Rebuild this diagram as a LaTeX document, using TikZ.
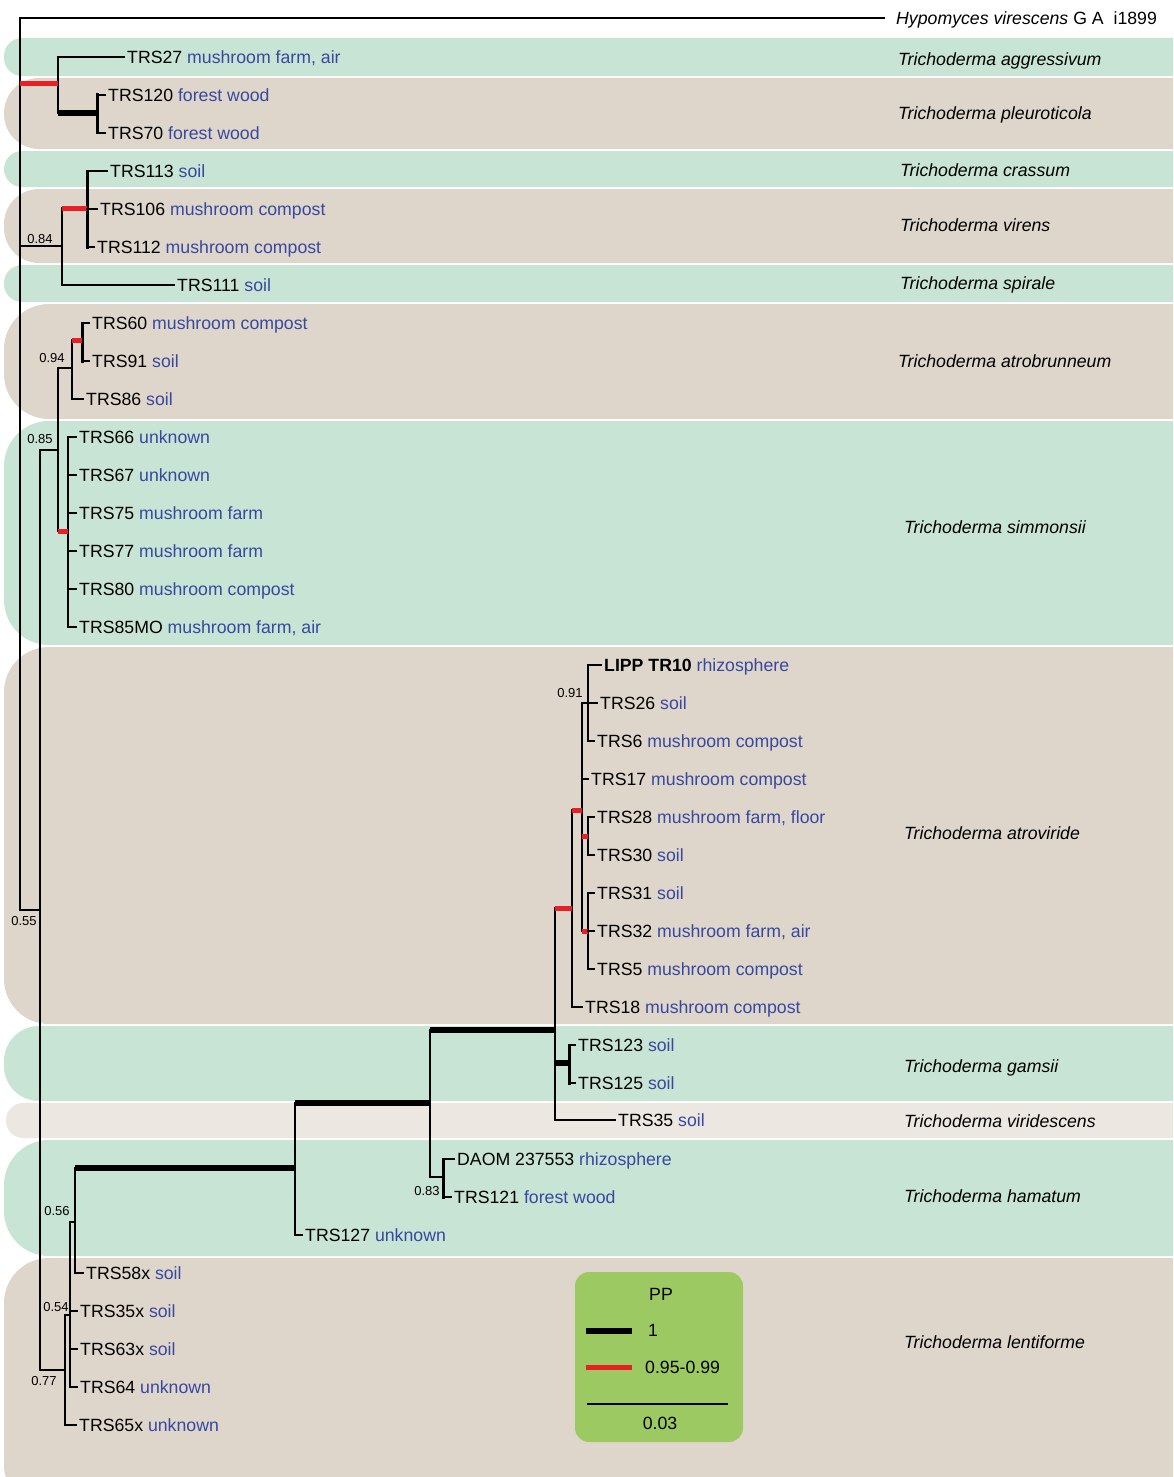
\documentclass[tikz,border=0pt]{standalone}
\usepackage{fontspec}
\setmainfont{Liberation Sans}
\usetikzlibrary{positioning}
\definecolor{bandgreen}{RGB}{200,228,212}
\definecolor{bandbeige}{RGB}{222,214,203}
\definecolor{bandlight}{RGB}{236,231,225}
\definecolor{srcblue}{RGB}{55,72,160}
\definecolor{ppred}{RGB}{232,32,38}
\definecolor{legendgreen}{RGB}{157,201,99}
\newcommand{\src}[1]{\textcolor{srcblue}{#1}}

\begin{document}
\begin{tikzpicture}[x=1pt,y=-1pt,
    leaf/.style={anchor=west,inner xsep=3pt,inner ysep=0pt,text height=12.7pt,text depth=0pt,font=\fontsize{17.7}{20}\selectfont},
    species/.style={anchor=west,inner sep=0pt,text height=12.7pt,text depth=0pt,font=\fontsize{17.7}{20}\selectfont\itshape},
    pp/.style={inner sep=0pt,font=\fontsize{13}{15}\selectfont},
    br/.style={line width=2.2pt,line cap=rect},
    brv/.style={line width=3pt,line cap=rect},
    pp1/.style={line width=5.5pt},
    pp95/.style={line width=5pt,ppred}]

    \useasboundingbox (0,0) rectangle (1173,1477);
    \clip (0,0) rectangle (1173,1477);

    % species bands
    \fill[bandgreen,rounded corners=18pt] (4,38) rectangle (1220,76);
    \fill[bandbeige,rounded corners=35pt] (4,78) rectangle (1220,149);
    \fill[bandgreen,rounded corners=18pt] (4,151) rectangle (1220,187);
    \fill[bandbeige,rounded corners=35pt] (4,189) rectangle (1220,263);
    \fill[bandgreen,rounded corners=18pt] (4,265) rectangle (1220,302);
    \fill[bandbeige,rounded corners=45pt] (4,304) rectangle (1220,419);
    \fill[bandgreen,rounded corners=45pt] (4,421) rectangle (1220,645);
    \fill[bandbeige,rounded corners=45pt] (4,647) rectangle (1220,1024);
    \fill[bandgreen,rounded corners=35pt] (4,1026) rectangle (1220,1101);
    \fill[bandlight,rounded corners=17pt] (6,1103) rectangle (1220,1138);
    \fill[bandgreen,rounded corners=45pt] (4,1140) rectangle (1220,1256);
    \fill[bandbeige,rounded corners=45pt] (4,1258) rectangle (1220,1510);

    % species names
    \node[species] at (898,59) (aggr) {Trichoderma aggressivum};
    \node[species] at (898,113) (pleu) {Trichoderma pleuroticola};
    \node[species] at (900,170) (cras) {Trichoderma crassum};
    \node[species] at (900,225) (vire) {Trichoderma virens};
    \node[species] at (900,283) (spir) {Trichoderma spirale};
    \node[species] at (898,361) (atrb) {Trichoderma atrobrunneum};
    \node[species] at (904,527) (simm) {Trichoderma simmonsii};
    \node[species] at (904,833) (atrv) {Trichoderma atroviride};
    \node[species] at (904,1066) (gams) {Trichoderma gamsii};
    \node[species] at (904,1121) (virs) {Trichoderma viridescens};
    \node[species] at (904,1196) (hama) {Trichoderma hamatum};
    \node[species] at (904,1342) (lent) {Trichoderma lentiforme};

    % strains
    \node[leaf,inner xsep=12pt] at (884,18) (hypo) {\textit{Hypomyces virescens} G~A~~i1899};
    \node[leaf] at (124,57) (t27) {TRS27 \src{mushroom farm, air}};
    \node[leaf] at (105,95) (t120) {TRS120 \src{forest wood}};
    \node[leaf] at (105,133) (t70) {TRS70 \src{forest wood}};
    \node[leaf] at (107,171) (t113) {TRS113 \src{soil}};
    \node[leaf] at (97,209) (t106) {TRS106 \src{mushroom compost}};
    \node[leaf] at (94,247) (t112) {TRS112 \src{mushroom compost}};
    \node[leaf] at (174,285) (t111) {TRS111 \src{soil}};
    \node[leaf] at (89,323) (t60) {TRS60 \src{mushroom compost}};
    \node[leaf] at (89,361) (t91) {TRS91 \src{soil}};
    \node[leaf] at (83,399) (t86) {TRS86 \src{soil}};
    \node[leaf] at (76,437) (t66) {TRS66 \src{unknown}};
    \node[leaf] at (76,475) (t67) {TRS67 \src{unknown}};
    \node[leaf] at (76,513) (t75) {TRS75 \src{mushroom farm}};
    \node[leaf] at (76,551) (t77) {TRS77 \src{mushroom farm}};
    \node[leaf] at (76,589) (t80) {TRS80 \src{mushroom compost}};
    \node[leaf] at (76,627) (t85) {TRS85MO \src{mushroom farm, air}};
    \node[leaf] at (601,665) (tLIPP) {\textbf{LIPP TR10} \src{rhizosphere}};
    \node[leaf] at (597,703) (t26) {TRS26 \src{soil}};
    \node[leaf] at (594,741) (t6) {TRS6 \src{mushroom compost}};
    \node[leaf] at (588,779) (t17) {TRS17 \src{mushroom compost}};
    \node[leaf] at (594,817) (t28) {TRS28 \src{mushroom farm, floor}};
    \node[leaf] at (594,855) (t30) {TRS30 \src{soil}};
    \node[leaf] at (594,893) (t31) {TRS31 \src{soil}};
    \node[leaf] at (594,931) (t32) {TRS32 \src{mushroom farm, air}};
    \node[leaf] at (594,969) (t5) {TRS5 \src{mushroom compost}};
    \node[leaf] at (582,1007) (t18) {TRS18 \src{mushroom compost}};
    \node[leaf] at (575,1045) (t123) {TRS123 \src{soil}};
    \node[leaf] at (575,1083) (t125) {TRS125 \src{soil}};
    \node[leaf] at (615,1120) (t35) {TRS35 \src{soil}};
    \node[leaf] at (454,1159) (tDAOM) {DAOM 237553 \src{rhizosphere}};
    \node[leaf] at (451,1197) (t121) {TRS121 \src{forest wood}};
    \node[leaf] at (302,1235) (t127) {TRS127 \src{unknown}};
    \node[leaf] at (83,1273) (t58) {TRS58x \src{soil}};
    \node[leaf] at (77,1311) (t35x) {TRS35x \src{soil}};
    \node[leaf] at (77,1349) (t63x) {TRS63x \src{soil}};
    \node[leaf] at (77,1387) (t64) {TRS64 \src{unknown}};
    \node[leaf] at (76,1425) (t65x) {TRS65x \src{unknown}};

    % posterior probabilities
    \node[pp] at (40,239) (s084) {0.84};
    \node[pp] at (52,358) (s094) {0.94};
    \node[pp] at (40,439) (s085) {0.85};
    \node[pp] at (24,921) (s055) {0.55};
    \node[pp] at (570,693) (s091) {0.91};
    \node[pp] at (57,1211) (s056) {0.56};
    \node[pp] at (56,1307) (s054) {0.54};
    \node[pp] at (44,1381) (s077) {0.77};
    \node[pp] at (427,1191) (s083) {0.83};

    % internal nodes
    \coordinate (root) at (20,18);
    \coordinate (nAP) at (58,84);
    \coordinate (nPl) at (97,113);
    \coordinate (nB) at (62,246);
    \coordinate (nV) at (87,208);
    \coordinate (nC) at (40,910);
    \coordinate (nD) at (58,450);
    \coordinate (nAt) at (72,368);
    \coordinate (nAt2) at (82,340);
    \coordinate (nSi) at (68,531);
    \coordinate (nE) at (65,1370);
    \coordinate (nF) at (70,1315);
    \coordinate (nG) at (75,1222);
    \coordinate (nH) at (295,1168);
    \coordinate (nI) at (430,1103);
    \coordinate (nJ) at (443,1177);
    \coordinate (nK) at (555,1030);
    \coordinate (nL) at (569,1063);
    \coordinate (nM) at (572,908);
    \coordinate (nN) at (582,810);
    \coordinate (n91) at (588,703);
    \coordinate (n28) at (588,836);
    \coordinate (n31) at (588,931);

    % verticals
    \draw[br] (root) -- (root |- nC);
    \draw[br] (nAP |- t27.west) -- (nAP |- nPl);
    \draw[brv] (nPl |- t120.west) -- (nPl |- t70.west);
    \draw[br] (nB |- nV) -- (nB |- t111.west);
    \draw[brv] (nV |- t113.west) -- (nV |- t112.west);
    \draw[br] (nC |- nD) -- (nC |- nE);
    \draw[br] (nD |- nAt) -- (nD |- nSi);
    \draw[br] (nAt |- nAt2) -- (nAt |- t86.west);
    \draw[brv] (nAt2 |- t60.west) -- (nAt2 |- t91.west);
    \draw[br] (nSi |- t66.west) -- (nSi |- t85.west);
    \draw[br] (nE |- nF) -- (nE |- t65x.west);
    \draw[br] (nF |- nG) -- (nF |- t64.west);
    \draw[br] (nG |- nH) -- (nG |- t58.west);
    \draw[br] (nH |- nI) -- (nH |- t127.west);
    \draw[br] (nI |- nK) -- (nI |- nJ);
    \draw[brv] (nJ |- tDAOM.west) -- (nJ |- t121.west);
    \draw[br] (nK |- nM) -- (nK |- t35.west);
    \draw[brv] (nL |- t123.west) -- (nL |- t125.west);
    \draw[br] (nM |- nN) -- (nM |- t18.west);
    \draw[br] (nN |- n91) -- (nN |- n31);
    \draw[br] (n91 |- tLIPP.west) -- (n91 |- t6.west);
    \draw[br] (n28 |- t28.west) -- (n28 |- t30.west);
    \draw[br] (n31 |- t31.west) -- (n31 |- t5.west);

    % branches
    \draw[br] (root) -- (hypo.west);
    \draw[pp95] (root |- nAP) -- (nAP);
    \draw[br] (root |- nB) -- (nB);
    \draw[br] (root |- nC) -- (nC);
    \draw[br] (nAP |- t27.west) -- (t27.west);
    \draw[pp1] (nAP |- nPl) -- (nPl);
    \draw[br] (nPl |- t120.west) -- (t120.west);
    \draw[br] (nPl |- t70.west) -- (t70.west);
    \draw[pp95] (nB |- nV) -- (nV);
    \draw[br] (nB |- t111.west) -- (t111.west);
    \draw[br] (nV |- t113.west) -- (t113.west);
    \draw[br] (nV |- t106.west) -- (t106.west);
    \draw[br] (nV |- t112.west) -- (t112.west);
    \draw[br] (nC |- nD) -- (nD);
    \draw[br] (nC |- nE) -- (nE);
    \draw[br] (nD |- nAt) -- (nAt);
    \draw[pp95] (nD |- nSi) -- (nSi);
    \draw[pp95] (nAt |- nAt2) -- (nAt2);
    \draw[br] (nAt |- t86.west) -- (t86.west);
    \draw[br] (nAt2 |- t60.west) -- (t60.west);
    \draw[br] (nAt2 |- t91.west) -- (t91.west);
    \draw[br] (nSi |- t66.west) -- (t66.west);
    \draw[br] (nSi |- t67.west) -- (t67.west);
    \draw[br] (nSi |- t75.west) -- (t75.west);
    \draw[br] (nSi |- t77.west) -- (t77.west);
    \draw[br] (nSi |- t80.west) -- (t80.west);
    \draw[br] (nSi |- t85.west) -- (t85.west);
    \draw[br] (nE |- nF) -- (nF);
    \draw[br] (nE |- t65x.west) -- (t65x.west);
    \draw[br] (nF |- nG) -- (nG);
    \draw[br] (nF |- t35x.west) -- (t35x.west);
    \draw[br] (nF |- t63x.west) -- (t63x.west);
    \draw[br] (nF |- t64.west) -- (t64.west);
    \draw[pp1] (nG |- nH) -- (nH);
    \draw[br] (nG |- t58.west) -- (t58.west);
    \draw[pp1] (nH |- nI) -- (nI);
    \draw[br] (nH |- t127.west) -- (t127.west);
    \draw[pp1] (nI |- nK) -- (nK);
    \draw[br] (nI |- nJ) -- (nJ);
    \draw[br] (nJ |- tDAOM.west) -- (tDAOM.west);
    \draw[br] (nJ |- t121.west) -- (t121.west);
    \draw[pp95] (nK |- nM) -- (nM);
    \draw[pp1] (nK |- nL) -- (nL);
    \draw[br] (nK |- t35.west) -- (t35.west);
    \draw[br] (nL |- t123.west) -- (t123.west);
    \draw[br] (nL |- t125.west) -- (t125.west);
    \draw[pp95] (nM |- nN) -- (nN);
    \draw[br] (nM |- t18.west) -- (t18.west);
    \draw[br] (nN |- n91) -- (n91);
    \draw[br] (nN |- t17.west) -- (t17.west);
    \draw[pp95] (nN |- n28) -- (n28);
    \draw[pp95] (nN |- n31) -- (n31);
    \draw[br] (n91 |- tLIPP.west) -- (tLIPP.west);
    \draw[br] (n91 |- t26.west) -- (t26.west);
    \draw[br] (n91 |- t6.west) -- (t6.west);
    \draw[br] (n28 |- t28.west) -- (t28.west);
    \draw[br] (n28 |- t30.west) -- (t30.west);
    \draw[br] (n31 |- t31.west) -- (t31.west);
    \draw[br] (n31 |- t32.west) -- (t32.west);
    \draw[br] (n31 |- t5.west) -- (t5.west);

    % legend
    \node[fill=legendgreen,rounded corners=14pt,minimum width=168pt,minimum height=170pt,inner sep=0pt] at (659,1357) (legend) {};
    \node[leaf,anchor=center] at (661,1294) (ppkey) {PP};
    \draw[pp1] (586,1331) -- (632,1331);
    \node[leaf] at (645,1330) (key1) {1};
    \draw[pp95] (586,1367) -- (632,1367);
    \node[leaf] at (642,1367) (key2) {0.95-0.99};
    \draw[line width=2pt] (587,1404) -- (728,1404);
    \node[leaf,anchor=center] at (660,1423) (scale) {0.03};
\end{tikzpicture}
\end{document}
